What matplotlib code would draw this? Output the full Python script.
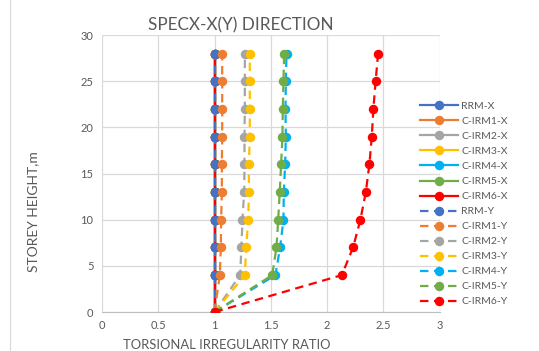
import matplotlib
matplotlib.use("Agg")
import matplotlib.pyplot as plt

plt.rcParams['font.family'] = ['Lato', 'DejaVu Sans']

heights = [0, 4, 7, 10, 13, 16, 19, 22, 25, 28]

# X-direction series (all coincide at 1.0)
rrm_x   = [1.0] * 10
irm1_x  = [1.0] * 10
irm2_x  = [1.0] * 10
irm3_x  = [1.0] * 10
irm4_x  = [1.0] * 10
irm5_x  = [1.0] * 10
irm6_x  = [1.0] * 10

# Y-direction series
rrm_y   = [1.0, 1.0, 1.0, 1.0, 1.0, 1.0, 1.0, 1.0, 1.0, 1.0]
irm1_y  = [1.0, 1.047, 1.056, 1.059, 1.065, 1.065, 1.068, 1.068, 1.068, 1.068]
irm2_y  = [1.0, 1.227, 1.239, 1.248, 1.263, 1.266, 1.266, 1.269, 1.269, 1.269]
irm3_y  = [1.0, 1.269, 1.281, 1.299, 1.305, 1.305, 1.313, 1.313, 1.313, 1.313]
irm4_y  = [1.0, 1.541, 1.582, 1.612, 1.615, 1.627, 1.633, 1.630, 1.633, 1.639]
irm5_y  = [1.0, 1.512, 1.550, 1.565, 1.579, 1.591, 1.603, 1.606, 1.612, 1.618]
irm6_y  = [1.0, 2.13, 2.23, 2.295, 2.343, 2.375, 2.396, 2.41, 2.43, 2.452]

names = ['RRM', 'C-IRM1', 'C-IRM2', 'C-IRM3', 'C-IRM4', 'C-IRM5', 'C-IRM6']
colors = ['#4472C4', '#ED7D31', '#A5A5A5', '#FFC000', '#00B0F0', '#70AD47', '#FF0000']
xs = [rrm_x, irm1_x, irm2_x, irm3_x, irm4_x, irm5_x, irm6_x]
ys = [rrm_y, irm1_y, irm2_y, irm3_y, irm4_y, irm5_y, irm6_y]

fig = plt.figure(figsize=(5.39, 3.51), dpi=100)
ax = fig.add_axes([0.189, 0.111, 0.627, 0.789])

for n, c, v in zip(names, colors, xs):
    ax.plot(v, heights, color=c, lw=1.6, marker='o', ms=5.8, label=n + '-X', zorder=3)
for n, c, v in zip(names, colors, ys):
    ax.plot(v, heights, color=c, lw=1.6, ls=(0, (3.8, 2.5)), marker='o', ms=5.8,
            label=n + '-Y', zorder=4)

ax.set_xlim(0, 3)
ax.set_ylim(0, 30)
ax.set_xticks([0, 0.5, 1, 1.5, 2, 2.5, 3])
ax.set_xticklabels(['0', '0.5', '1', '1.5', '2', '2.5', '3'])
ax.set_yticks([0, 5, 10, 15, 20, 25, 30])
ax.grid(True, color='#D9D9D9', lw=0.9, zorder=0)
ax.set_axisbelow(True)
for s in ['top', 'right', 'left']:
    ax.spines[s].set_visible(False)
ax.spines['bottom'].set_color('#BFBFBF')
ax.tick_params(length=0, colors='#595959', labelsize=8, pad=6)

fig.text(241 / 539, 0.912, 'SPECX-X(Y) DIRECTION', fontsize=12.3, color='#595959',
         ha='center', va='baseline')
fig.text(227 / 539, 1 - 349 / 351, 'TORSIONAL IRREGULARITY RATIO', fontsize=9.4,
         color='#595959', ha='center', va='baseline')
fig.text(33 / 539, 1 - 212 / 351, 'STOREY HEIGHT,m', fontsize=10, color='#595959',
         ha='center', va='center', rotation=90)

leg = ax.legend(loc='center left', bbox_to_anchor=(0.915, 0.39), frameon=False,
                fontsize=7.5, handlelength=3.6, labelspacing=0.55, handletextpad=0.3,
                labelcolor='#595959')

fig.add_artist(plt.Line2D([0.019, 0.019], [0.0, 1.0], color='#D9D9D9', lw=0.8))

fig.savefig('out.png', dpi=100)
